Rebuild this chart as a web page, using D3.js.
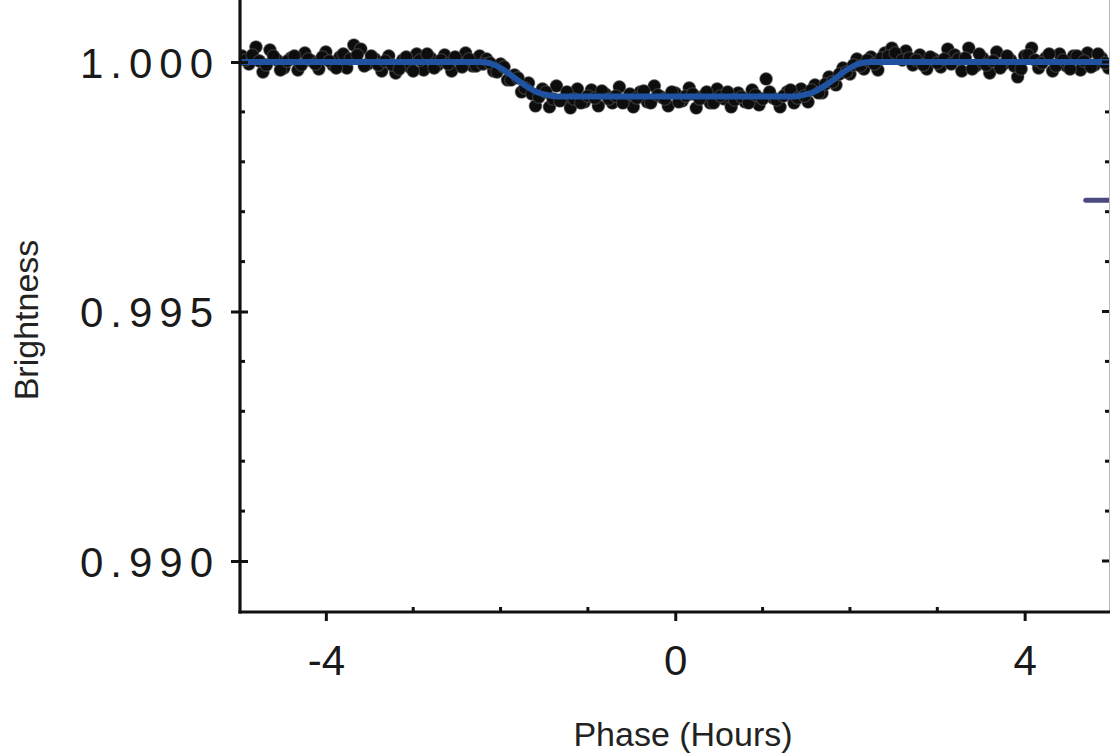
<!DOCTYPE html>
<html><head><meta charset="utf-8">
<script src="https://cdn.jsdelivr.net/npm/d3@7"></script>
<style>html,body{margin:0;padding:0;background:#fff;}svg{display:block;}</style>
</head><body>
<script>
// ---- data ----
const phaseA = [-4.96,-4.88,-4.80,-4.72,-4.64,-4.56,-4.48,-4.40,-4.32,-4.24,-4.16,-4.08,-4.00,-3.92,-3.84,-3.76,-3.68,-3.60,-3.52,-3.44,-3.36,-3.28,-3.20,-3.12,-3.04,-2.96,-2.88,-2.80,-2.72,-2.64,-2.56,-2.48,-2.40,-2.32,-2.24,-2.16,-2.08,-2.00,-1.92,-1.84,-1.76,-1.68,-1.60,-1.52,-1.44,-1.36,-1.28,-1.20,-1.12,-1.04,-0.96,-0.88,-0.80,-0.72,-0.64,-0.56,-0.48,-0.40,-0.32,-0.24,-0.16,-0.08,0.00,0.08,0.16,0.24,0.32,0.40,0.48,0.56,0.64,0.72,0.80,0.88,0.96,1.04,1.12,1.20,1.28,1.36,1.44,1.52,1.60,1.68,1.76,1.84,1.92,2.00,2.08,2.16,2.24,2.32,2.40,2.48,2.56,2.64,2.72,2.80,2.88,2.96,3.04,3.12,3.20,3.28,3.36,3.44,3.52,3.60,3.68,3.76,3.84,3.92,4.00,4.08,4.16,4.24,4.32,4.40,4.48,4.56,4.64,4.72,4.80,4.88,4.96];
const brightA = [1.00012,0.99996,1.00030,0.99980,1.00024,1.00004,0.99988,1.00008,0.99984,1.00018,1.00002,0.99986,1.00020,0.99994,1.00010,0.99988,1.00034,1.00026,0.99996,1.00006,0.99982,1.00012,0.99978,1.00004,0.99990,1.00016,0.99984,1.00008,0.99994,1.00014,0.99982,1.00004,1.00018,0.99992,1.00012,1.00006,0.99982,0.99996,0.99964,0.99974,0.99940,0.99958,0.99912,0.99946,0.99910,0.99952,0.99926,0.99908,0.99946,0.99920,0.99944,0.99912,0.99936,0.99918,0.99950,0.99924,0.99910,0.99940,0.99920,0.99952,0.99930,0.99912,0.99938,0.99922,0.99948,0.99908,0.99932,0.99918,0.99946,0.99926,0.99910,0.99938,0.99920,0.99944,0.99914,0.99966,0.99928,0.99910,0.99940,0.99918,0.99946,0.99920,0.99954,0.99938,0.99970,0.99954,0.99988,0.99976,1.00006,0.99986,1.00010,0.99984,1.00018,1.00028,1.00010,1.00022,0.99994,1.00014,0.99986,1.00006,0.99990,1.00026,1.00014,0.99982,1.00028,0.99992,1.00008,0.99978,1.00020,0.99996,1.00004,0.99970,1.00012,1.00028,0.99988,1.00008,0.99982,1.00016,0.99992,1.00012,0.99984,1.00018,0.99994,1.00008,0.99988];
const phaseB = [-4.92,-4.84,-4.76,-4.68,-4.60,-4.52,-4.44,-4.36,-4.28,-4.20,-4.12,-4.04,-3.96,-3.88,-3.80,-3.72,-3.64,-3.56,-3.48,-3.40,-3.32,-3.24,-3.16,-3.08,-3.00,-2.92,-2.84,-2.76,-2.68,-2.60,-2.52,-2.44,-2.36,-2.28,-2.20,-2.12,-2.04,-1.96,-1.88,-1.80,-1.72,-1.64,-1.56,-1.48,-1.40,-1.32,-1.24,-1.16,-1.08,-1.00,-0.92,-0.84,-0.76,-0.68,-0.60,-0.52,-0.44,-0.36,-0.28,-0.20,-0.12,-0.04,0.04,0.12,0.20,0.28,0.36,0.44,0.52,0.60,0.68,0.76,0.84,0.92,1.00,1.08,1.16,1.24,1.32,1.40,1.48,1.56,1.64,1.72,1.80,1.88,1.96,2.04,2.12,2.20,2.28,2.36,2.44,2.52,2.60,2.68,2.76,2.84,2.92,3.00,3.08,3.16,3.24,3.32,3.40,3.48,3.56,3.64,3.72,3.80,3.88,3.96,4.04,4.12,4.20,4.28,4.36,4.44,4.52,4.60,4.68,4.76,4.84,4.92];
const brightB = [1.00004,1.00014,1.00002,0.99994,1.00012,0.99984,1.00002,1.00012,0.99994,1.00006,0.99996,1.00010,1.00002,0.99988,1.00016,1.00006,1.00014,0.99992,1.00012,0.99994,1.00002,0.99994,0.99986,1.00010,0.99982,1.00004,1.00016,0.99988,1.00004,0.99996,1.00010,0.99990,1.00006,0.99992,0.99996,0.99998,0.99980,0.99990,0.99964,0.99968,0.99948,0.99936,0.99930,0.99940,0.99926,0.99922,0.99940,0.99926,0.99918,0.99932,0.99928,0.99942,0.99926,0.99932,0.99918,0.99936,0.99928,0.99942,0.99918,0.99934,0.99926,0.99940,0.99920,0.99932,0.99936,0.99926,0.99940,0.99918,0.99932,0.99940,0.99924,0.99930,0.99918,0.99934,0.99926,0.99940,0.99924,0.99932,0.99944,0.99928,0.99932,0.99944,0.99938,0.99956,0.99960,0.99976,0.99980,0.99994,0.99992,1.00004,0.99996,1.00008,1.00012,1.00018,1.00004,1.00008,1.00004,0.99994,1.00010,0.99998,1.00006,0.99996,1.00006,1.00008,0.99986,1.00016,0.99994,1.00002,0.99988,1.00012,0.99992,0.99986,1.00014,1.00004,0.99998,1.00016,0.99992,1.00004,0.99986,1.00012,1.00002,0.99990,1.00016,0.99998];
const modelPhase = [-5,-2.24,-2.16,-2.08,-2.00,-1.92,-1.84,-1.76,-1.68,-1.60,-1.52,-1.44,-1.36,1.36,1.44,1.52,1.60,1.68,1.76,1.84,1.92,2.00,2.08,2.16,2.24,5];
const modelBright = [1.00000,1.00000,0.99999,0.99995,0.99988,0.99979,0.99968,0.99958,0.99949,0.99941,0.99936,0.99933,0.99931,0.99931,0.99933,0.99936,0.99941,0.99949,0.99958,0.99968,0.99979,0.99988,0.99995,0.99999,1.00000,1.00000];
const markPhase = [4.70, 5.0];
const markBright = [0.99723, 0.99723];
const xMajorTicks = [-4, 0, 4];
const xMinorTicks = [-3, -2, -1, 1, 2, 3];
const yMajorTicks = [0.990, 0.995, 1.000];
const yMinorTicks = [0.991, 0.992, 0.993, 0.994, 0.996, 0.997, 0.998, 0.999];
const xTitle = "Phase (Hours)";
const yTitle = "Brightness";

// ---- chart ----
const W = 1110, H = 754;
const axisX = 240, axisY = 612, rightX = 1109;
const FONT = "Liberation Sans, Arial, sans-serif";
const x = d3.scaleLinear().domain([-5, 5]).range([238.5, 1112]);
const y = d3.scaleLinear().domain([0.990, 1.000]).range([561, 62]);

const svg = d3.select("body").append("svg").attr("width", W).attr("height", H);
svg.append("rect").attr("width", W).attr("height", H).attr("fill", "#fff");

const defs = svg.append("defs");
defs.append("clipPath").attr("id", "plot")
  .append("rect").attr("x", axisX).attr("y", 0).attr("width", rightX - axisX + 1).attr("height", axisY);
defs.append("filter").attr("id", "soft")
  .append("feGaussianBlur").attr("stdDeviation", 0.6);

const plot = svg.append("g").attr("clip-path", "url(#plot)");

const pts = phaseA.map((p, i) => [p, brightA[i]]).concat(phaseB.map((p, i) => [p, brightB[i]]));
plot.append("g").attr("filter", "url(#soft)").selectAll("circle").data(pts).join("circle")
  .attr("cx", d => x(d[0])).attr("cy", d => y(d[1])).attr("r", 6.4)
  .attr("fill", "#0e0e0e").attr("stroke", "#666").attr("stroke-opacity", 0.45).attr("stroke-width", 1.2);

const model = modelPhase.map((p, i) => [p, modelBright[i]]);
plot.append("path").datum(model)
  .attr("d", d3.line().x(d => x(d[0])).y(d => y(d[1])).curve(d3.curveMonotoneX))
  .attr("fill", "none").attr("stroke", "#1f52a0").attr("stroke-width", 6);

const mark = markPhase.map((p, i) => [p, markBright[i]]);
plot.append("path").datum(mark)
  .attr("d", d3.line().x(d => x(d[0])).y(d => y(d[1])))
  .attr("stroke", "#4a4a80").attr("stroke-width", 5).attr("stroke-linecap", "round");

// right thin border + inward ticks
svg.append("line").attr("x1", rightX + 0.5).attr("x2", rightX + 0.5).attr("y1", 0).attr("y2", axisY)
  .attr("stroke", "#b8b8b8").attr("stroke-width", 1);
svg.append("g").selectAll("line").data(yMinorTicks).join("line")
  .attr("x1", rightX - 4).attr("x2", rightX).attr("y1", d => y(d)).attr("y2", d => y(d))
  .attr("stroke", "#111").attr("stroke-width", 3);
svg.append("g").selectAll("line").data(yMajorTicks).join("line")
  .attr("x1", rightX - 7).attr("x2", rightX).attr("y1", d => y(d)).attr("y2", d => y(d))
  .attr("stroke", "#111").attr("stroke-width", 3);

// left axis
const gy = svg.append("g").attr("transform", `translate(${axisX},0)`);
gy.call(d3.axisLeft(y).tickValues(yMajorTicks).tickFormat(d3.format(".3f")).tickSize(8));
gy.select(".domain").remove();
gy.selectAll(".tick line").attr("x2", -9).attr("x1", 8).attr("stroke", "#111").attr("stroke-width", 3);
gy.selectAll(".tick text").attr("font-family", FONT)
  .attr("font-size", 42).attr("fill", "#1a1a1a").attr("letter-spacing", "7px")
  .attr("dy", "0.36em").attr("x", -20);
gy.append("g").selectAll("line").data(yMinorTicks).join("line")
  .attr("x1", 0).attr("x2", 5).attr("y1", d => y(d)).attr("y2", d => y(d))
  .attr("stroke", "#111").attr("stroke-width", 3);
svg.append("line").attr("x1", axisX).attr("x2", axisX).attr("y1", 0).attr("y2", axisY + 1.5)
  .attr("stroke", "#111").attr("stroke-width", 3.2);

// bottom axis
const gx = svg.append("g").attr("transform", `translate(0,${axisY})`);
gx.call(d3.axisBottom(x).tickValues(xMajorTicks).tickFormat(d => String(d)).tickSize(9).tickPadding(33));
gx.select(".domain").remove();
gx.selectAll(".tick line").attr("stroke", "#111").attr("stroke-width", 3);
gx.selectAll(".tick text").attr("font-family", FONT)
  .attr("font-size", 42).attr("fill", "#1a1a1a").attr("dy", "0.5em");
gx.append("g").selectAll("line").data(xMinorTicks).join("line")
  .attr("x1", d => x(d)).attr("x2", d => x(d)).attr("y1", 0).attr("y2", -5)
  .attr("stroke", "#111").attr("stroke-width", 3);
svg.append("line").attr("x1", axisX - 1.5).attr("x2", W).attr("y1", axisY).attr("y2", axisY)
  .attr("stroke", "#111").attr("stroke-width", 3.2);

// titles
svg.append("text").text(xTitle).attr("x", 683).attr("y", 746).attr("text-anchor", "middle")
  .attr("font-family", FONT).attr("font-size", 34).attr("fill", "#222");
svg.append("text").text(yTitle).attr("transform", "translate(38,320) rotate(-90)").attr("text-anchor", "middle")
  .attr("font-family", FONT).attr("font-size", 34).attr("fill", "#222");
</script>
</body></html>
